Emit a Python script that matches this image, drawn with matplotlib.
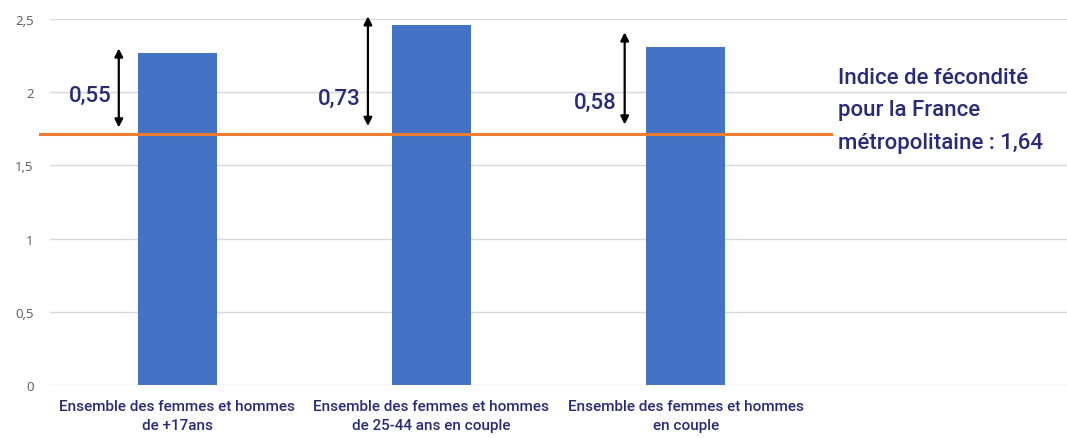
import matplotlib
matplotlib.use("Agg")
import matplotlib.pyplot as plt

# data
categories = ["Ensemble des femmes et hommes\nde +17ans",
              "Ensemble des femmes et hommes\nde 25-44 ans en couple",
              "Ensemble des femmes et hommes\nen couple",
              ""]
values = [2.27, 2.46, 2.31]
ref_level = 1.715
ref_label = "Indice de fécondité\npour la France\nmétropolitaine : 1,64"
gap_labels = ["0,55", "0,73", "0,58"]
arrow_bottom = [1.76, 1.77, 1.78]
arrow_top = [2.30, 2.52, 2.41]
arrow_x = [-0.23, 0.75, 1.76]
label_y = [1.98, 1.96, 1.93]
yticks = [0, 0.5, 1, 1.5, 2, 2.5]
ytick_labels = ["0", "0,5", "1", "1,5", "2", "2,5"]

navy = "#2b2a78"
font = ["Roboto", "DejaVu Sans"]

fig = plt.figure(figsize=(10.67, 4.39), dpi=100)
ax = fig.add_axes([0.047, 0.121, 0.953, 0.833])

x = range(len(values))
ax.bar(x, values, width=0.31, color="#4472C4", zorder=2)
ax.set_xlim(-0.5, 3.5)
ax.set_ylim(0, 2.5)

ax.set_yticks(yticks)
ax.set_yticklabels(ytick_labels, color="#595959", fontsize=9.5, family=["Open Sans", "DejaVu Sans"])
ax.set_xticks(range(len(categories)))
ax.set_xticklabels(categories, color=navy, fontsize=11, family=font,
                   fontweight="medium", linespacing=1.45)
ax.tick_params(axis="y", length=0, pad=12)
ax.tick_params(axis="x", length=0, pad=10)
ax.grid(axis="y", color="#d9d9d9", lw=1, zorder=0)
for s in ax.spines.values():
    s.set_visible(False)

ax.plot([-0.54, 2.57], [ref_level, ref_level], color="#ED7D31", lw=2.2,
        zorder=3, clip_on=False)

for xi, lo, hi, lab, ly in zip(arrow_x, arrow_bottom, arrow_top, gap_labels, label_y):
    ax.annotate("", xy=(xi, hi), xytext=(xi, lo),
                arrowprops=dict(arrowstyle="<|-|>", color="black", lw=1.6,
                                mutation_scale=12, shrinkA=0, shrinkB=0),
                annotation_clip=False)
    ax.text(xi - 0.03, ly, lab, ha="right", va="center", color=navy,
            fontsize=16, family=font, fontweight="medium")

ax.text(2.6, 1.88, ref_label, ha="left", va="center", color=navy,
        fontsize=16, family=font, fontweight="medium", linespacing=1.7)

fig.savefig("out.png", dpi=100)
